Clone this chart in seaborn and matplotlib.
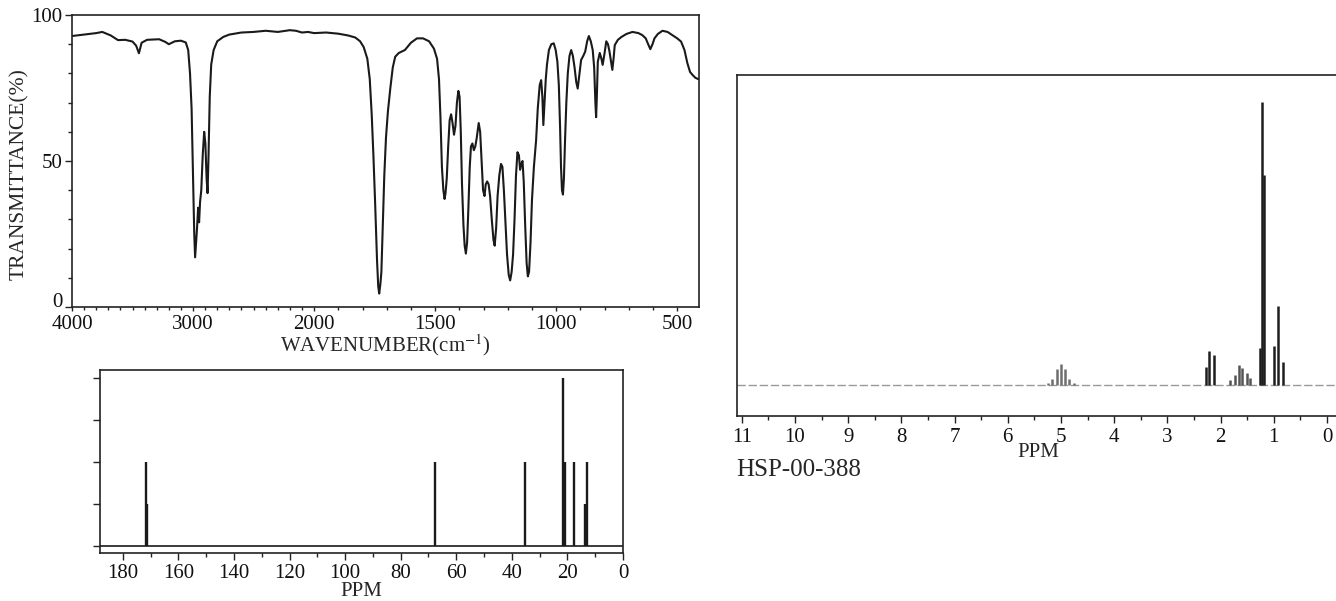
import numpy as np
import seaborn as sns
import matplotlib
matplotlib.use('Agg')
import matplotlib.pyplot as plt
from matplotlib.ticker import FixedLocator, MultipleLocator, NullFormatter

# ---- IR spectrum (wavenumber cm-1, transmittance %)
ir_wavenumber = [4000, 3900, 3800, 3750, 3680, 3620, 3560, 3500, 3470, 3447, 3425, 3380, 3280, 3230,
                 3200, 3150, 3100, 3060, 3040, 3025, 3012, 3000, 2990, 2983, 2975, 2967, 2958, 2950,
                 2942, 2932, 2920, 2908, 2898, 2888, 2880, 2872, 2862, 2850, 2830, 2800, 2750, 2700,
                 2600, 2500, 2400, 2300, 2200, 2150, 2100, 2050, 2000, 1950, 1900, 1860, 1830, 1810,
                 1795, 1780, 1770, 1762, 1755, 1748, 1740, 1735, 1731, 1726, 1722, 1716, 1710, 1703,
                 1695, 1685, 1675, 1665, 1650, 1625, 1600, 1575, 1550, 1525, 1505, 1492, 1484, 1478,
                 1472, 1466, 1461, 1457, 1452, 1446, 1440, 1434, 1428, 1422, 1416, 1410, 1404, 1399,
                 1394, 1389, 1383, 1378, 1373, 1368, 1363, 1357, 1352, 1346, 1340, 1334, 1328, 1320,
                 1314, 1308, 1302, 1296, 1291, 1285, 1279, 1273, 1266, 1259, 1254, 1248, 1242, 1235,
                 1228, 1222, 1216, 1210, 1203, 1196, 1190, 1184, 1178, 1172, 1166, 1160, 1154, 1149,
                 1144, 1139, 1134, 1128, 1122, 1117, 1112, 1106, 1100, 1092, 1083, 1076, 1068, 1062,
                 1057, 1053, 1048, 1043, 1038, 1030, 1020, 1010, 1002, 995, 989, 984, 980, 976,
                 972, 968, 963, 958, 952, 945, 938, 931, 924, 917, 911, 905, 897, 888,
                 880, 872, 865, 857, 849, 843, 838, 835, 832, 828, 820, 813, 808, 800,
                 793, 786, 780, 773, 768, 763, 758, 745, 730, 710, 685, 660, 644, 630,
                 620, 611, 602, 594, 580, 561, 540, 520, 500, 484, 470, 458, 447, 437,
                 425, 412]
ir_transmittance = [92.8, 93.3, 93.8, 94.2, 93, 91.4, 91.5, 90.9, 89.5, 86.9, 90.5, 91.5, 91.7, 90.8,
                    90, 91, 91.2, 90.6, 88, 80, 68, 45, 25, 17, 22, 27, 34, 29,
                    36, 40, 52, 60, 56, 44, 39, 52, 72, 83, 88, 91, 92.5, 93.3,
                    94, 94.2, 94.6, 94.2, 94.8, 94.6, 94, 94.2, 93.8, 94, 93.6, 93, 92.3, 91,
                    89, 85, 78, 66, 52, 36, 16, 7, 4.6, 8, 12, 28, 45, 58,
                    67, 75, 82, 85.7, 87, 88, 90.5, 92, 92, 91, 88.5, 85, 78, 65,
                    48, 40, 37, 39, 44, 55, 64, 66, 63, 59, 62, 70, 74, 72,
                    60, 42, 28, 21, 18.3, 22, 33, 48, 55, 56, 53.7, 55, 58, 63,
                    60, 50, 40, 38, 42, 43, 42, 38, 30, 23, 21, 27, 38, 45,
                    49, 48, 40, 30, 18, 11, 9.1, 12, 18, 30, 45, 53, 52, 47,
                    49, 50, 43, 28, 15, 10.5, 12, 22, 36.6, 48, 57, 68, 76, 77.7,
                    72, 62.3, 70, 78, 83, 88, 90, 90.3, 88, 84, 76, 62, 48, 40,
                    38.5, 44, 58, 70, 80, 86, 88, 86, 82, 77, 74.8, 79, 84.6, 86,
                    87.5, 91, 92.8, 91, 88, 82, 70, 65, 72, 84, 87, 85, 82.9, 87,
                    91, 90, 87.6, 84, 81.2, 85, 89.7, 91.5, 92.5, 93.5, 94.2, 93.8, 93.1, 92,
                    90, 88.3, 90, 92, 93.5, 94.6, 94.2, 93.1, 92, 90.9, 88, 83.5, 80.5, 79.5,
                    78.5, 78]
ir_labeled_ticks = [4000, 3000, 2000, 1500, 1000, 500]

# ---- 13C NMR stick spectrum (ppm, relative height)
c13_ppm = [171.6, 171.2, 67.5, 35.3, 21.5, 21.0, 17.7, 13.5, 12.9]
c13_height = [0.5, 0.25, 0.5, 0.5, 1.0, 0.5, 0.5, 0.25, 0.5]

# ---- 1H NMR lines (ppm, relative height) per multiplet
h_septet_ppm = [5.24, 5.16, 5.08, 5.00, 4.92, 4.84, 4.76]
h_septet_int = [0.006, 0.022, 0.056, 0.074, 0.056, 0.022, 0.006]
h_triplet_a_ppm = [2.28, 2.21, 2.12]
h_triplet_a_int = [0.064, 0.12, 0.106]
h_sextet_ppm = [1.82, 1.73, 1.66, 1.59, 1.51, 1.44]
h_sextet_int = [0.018, 0.035, 0.071, 0.06, 0.042, 0.025]
h_doublet_ppm = [1.25, 1.22, 1.18]
h_doublet_int = [0.13, 1.0, 0.74]
h_triplet_b_ppm = [1.00, 0.92, 0.83]
h_triplet_b_int = [0.138, 0.28, 0.08]

sample_id = 'HSP-00-388'

sns.set_style('ticks')
plt.rcParams['font.family'] = ['Liberation Serif', 'DejaVu Serif']
plt.rcParams['mathtext.fontset'] = 'stix'

fig = plt.figure(figsize=(13.36, 6.01), dpi=100)
W, H = 1336, 601


def box(left, top, right, bottom):
    return [left / W, 1 - bottom / H, (right - left) / W, (bottom - top) / H]


def style_ax(ax, lw=1.2):
    for s in ax.spines.values():
        s.set_linewidth(lw)
        s.set_color('#222')
    ax.tick_params(which='both', direction='out', color='#222', width=1.0, labelcolor='#111')
    ax.tick_params(which='major', length=5)
    ax.tick_params(which='minor', length=3)


# ---------------- IR
def fwd(w):
    w = np.asarray(w, dtype=float)
    return np.where(w >= 2000, w, 2 * w - 2000)


def inv(u):
    u = np.asarray(u, dtype=float)
    return np.where(u >= 2000, u, (u + 2000) / 2)


ax_ir = fig.add_axes(box(72, 15, 699, 307))
ax_ir.set_xscale('function', functions=(fwd, inv))
sns.lineplot(x=ir_wavenumber, y=ir_transmittance, ax=ax_ir, color='#1a1a1a',
             linewidth=1.5, sort=False, estimator=None)
ax_ir.set_xlim(4000, 410)
ax_ir.set_ylim(0, 100)
style_ax(ax_ir)
ax_ir.xaxis.set_major_locator(FixedLocator(ir_labeled_ticks))
ax_ir.xaxis.set_minor_locator(FixedLocator([w for w in range(500, 4000, 100)
                                            if w not in ir_labeled_ticks]))
ax_ir.xaxis.set_minor_formatter(NullFormatter())
ax_ir.set_xticklabels([str(t) for t in ir_labeled_ticks], fontsize=15)
ax_ir.yaxis.set_major_locator(FixedLocator([0, 50, 100]))
ax_ir.yaxis.set_minor_locator(MultipleLocator(10))
ax_ir.set_yticklabels(['0', '50', '100'], fontsize=15)
ax_ir.get_yticklabels()[0].set_va('baseline')
ax_ir.tick_params(axis='x', which='major', length=3, pad=2.5)
ax_ir.tick_params(axis='x', which='minor', length=2)
ax_ir.tick_params(axis='y', pad=2)
ax_ir.set_xlabel(r'WAVENUMBER(cm$^{-1}$)', fontsize=15, labelpad=-1)
ax_ir.set_ylabel('')
fig.text(19 / W, 1 - 174 / H, 'TRANSMITTANCE(%)', rotation=90, fontsize=15.5,
         ha='center', va='center')

# ---------------- 13C NMR
ax_c = fig.add_axes(box(100, 370, 623, 553))
ax_c.vlines(c13_ppm, 0, c13_height, color='#1a1a1a', linewidth=1.7)
ax_c.axhline(0, color='#1a1a1a', linewidth=1.2)
ax_c.set_xlim(188.2, 0)
ax_c.set_ylim(-0.042, 1.048)
style_ax(ax_c)
ax_c.xaxis.set_major_locator(MultipleLocator(20))
ax_c.xaxis.set_minor_locator(MultipleLocator(10))
ax_c.tick_params(axis='x', labelsize=15, pad=3)
ax_c.yaxis.set_major_locator(FixedLocator([0, 0.25, 0.5, 0.75, 1.0]))
ax_c.yaxis.set_major_formatter(NullFormatter())
ax_c.set_xlabel('PPM', fontsize=15)
ax_c.xaxis.set_label_coords(0.5, -0.16)
ax_c.xaxis.label.set_va('top')

# ---------------- 1H NMR
ax_h = fig.add_axes(box(736.5, 75, 1336, 416))
ax_h.axhline(0, color='#999999', linewidth=1.0, linestyle=(0, (6, 2)))
h_groups = [
    (h_septet_ppm, h_septet_int, '#6e6e6e'),
    (h_triplet_a_ppm, h_triplet_a_int, '#1e1e1e'),
    (h_sextet_ppm, h_sextet_int, '#555555'),
    (h_doublet_ppm, h_doublet_int, '#1e1e1e'),
    (h_triplet_b_ppm, h_triplet_b_int, '#1e1e1e'),
]
for ppm, inten, col in h_groups:
    ax_h.vlines(ppm, 0, inten, color=col, linewidth=1.8)
ax_h.set_xlim(11.1, -0.17)
ax_h.set_ylim(-0.11, 1.095)
style_ax(ax_h)
ax_h.spines['right'].set_visible(False)
ax_h.set_yticks([])
ax_h.xaxis.set_major_locator(MultipleLocator(1))
ax_h.xaxis.set_minor_locator(MultipleLocator(0.5))
ax_h.tick_params(axis='x', labelsize=15, pad=4)
ax_h.set_xlabel('PPM', fontsize=15)
ax_h.xaxis.set_label_coords(0.503, -0.079)
ax_h.xaxis.label.set_va('top')
fig.text(736 / W, 1 - 470 / H, sample_id, fontsize=18, ha='left', va='center')

fig.savefig('out.png', dpi=100)
